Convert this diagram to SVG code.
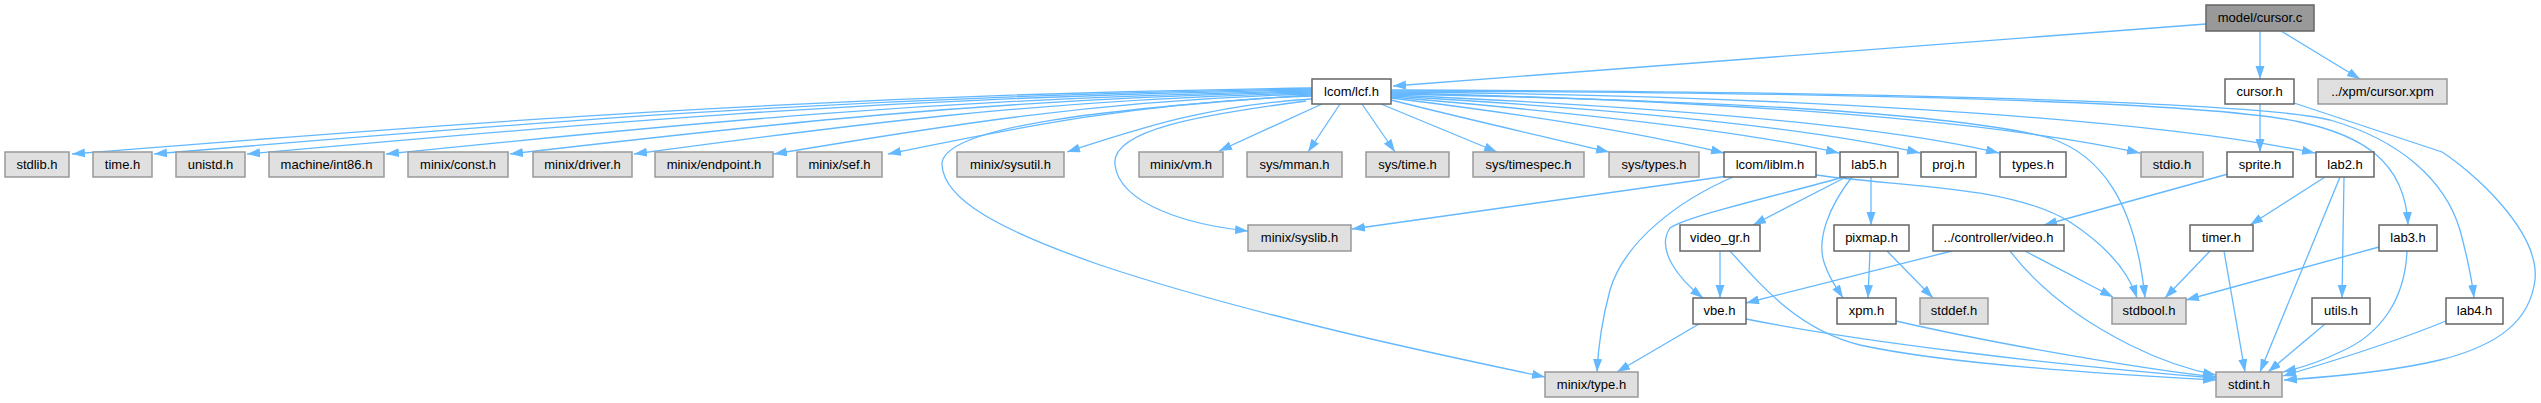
<svg xmlns="http://www.w3.org/2000/svg" width="2541" height="403" viewBox="0 0 2541 403">
<style>
.n rect{fill:#ffffff;stroke:#666666;stroke-width:1.5}
.g rect{fill:#e0e0e0;stroke:#999999;stroke-width:1.5}
.r rect{fill:#999999;stroke:#666666;stroke-width:1.5}
text{font-family:"Liberation Sans",Arial,sans-serif;font-size:13px;fill:#000000;text-anchor:middle}
#edges path{fill:none;stroke:#63B8FF;stroke-width:1.3;marker-end:url(#a)}
</style>
<defs>
<marker id="a" markerUnits="userSpaceOnUse" markerWidth="14" markerHeight="10" refX="13" refY="4.5" orient="auto"><path d="M0,0 L13,4.5 L0,9 z" fill="#63B8FF"/></marker>
</defs>
<rect width="2541" height="403" fill="#ffffff"/>
<g id="edges">
<path d="M2206,24 L1393,86"/>
<path d="M2260,31 L2260,79"/>
<path d="M2281,31 L2360,79"/>
<path d="M2260,104 L2260,152"/>
<path d="M2294,103 L2442,152 C2470,170 2540,230 2535,280 C2530,320 2500,345 2440,360 C2390,372 2330,377 2284,380"/>
<path d="M1312,88 C816,94.6 444,124.3 72,154"/>
<path d="M1312,89 C849,95.5 501,124.8 154,154"/>
<path d="M1312,90 C886,96.4 566,125.2 247,154"/>
<path d="M1312,91 C942,97.3 664,125.7 386,154"/>
<path d="M1312,92 C991,98.2 751,126.1 510,154"/>
<path d="M1312,93 C1041,99.1 837,126.6 634,154"/>
<path d="M1312,94 C1097,100 935,127 774,154"/>
<path d="M1312,96 C1142,101.8 1015,127.9 888,154"/>
<path d="M1312,99 C1214,104.3 1140,128 1067,152"/>
<path d="M1322,104 L1219,151"/>
<path d="M1340,104 L1308,152"/>
<path d="M1362,104 L1395,152"/>
<path d="M1381,104 L1497,152"/>
<path d="M1391,100 C1470,120 1550,138 1609,152"/>
<path d="M1391,98 C1530,115 1650,135 1724,153"/>
<path d="M1391,97 C1570,112 1740,130 1839,153"/>
<path d="M1391,96 C1600,108 1800,125 1920,153"/>
<path d="M1391,95 C1620,105 1870,122 1999,153"/>
<path d="M1391,93 C1700,100 1980,118 2140,153"/>
<path d="M1391,92 C1750,95 2130,115 2315,153"/>
<path d="M1391,91 C1800,92 2200,100 2300,122 C2360,135 2405,160 2408,225"/>
<path d="M1391,90 C1800,91 2250,100 2330,120 C2400,140 2445,180 2460,230 C2468,260 2472,280 2474,298"/>
<path d="M1391,94 C1700,100 1950,112 2050,138 C2100,155 2135,200 2145,298"/>
<path d="M1306,101 C1200,115 1110,130 1115,165 C1120,205 1190,225 1248,231"/>
<path d="M1311,95 C1120,108 940,125 942,165 C944,200 1000,230 1100,265 C1250,315 1440,355 1545,377"/>
<path d="M1728,176 L1352,229"/>
<path d="M1733,177 C1680,200 1625,240 1610,290 C1602,320 1598,350 1597,372"/>
<path d="M1816,175 C1900,187 2010,185 2070,222 C2105,245 2128,270 2137,298"/>
<path d="M1846,177 L1753,225"/>
<path d="M1840,178 C1780,195 1690,215 1670,228 C1655,250 1680,280 1703,298"/>
<path d="M1871,177 L1871,225"/>
<path d="M1852,177 C1830,205 1815,240 1825,265 C1830,280 1838,290 1843,298"/>
<path d="M1720,251 L1720,298"/>
<path d="M1730,251 C1765,290 1800,330 1860,345 C1950,365 2120,375 2216,380"/>
<path d="M1746,319 C1850,340 2050,365 2216,378"/>
<path d="M1699,324 L1617,372"/>
<path d="M1896,321 C2000,345 2150,370 2216,377"/>
<path d="M1870,251 L1868,298"/>
<path d="M1887,251 L1933,298"/>
<path d="M2228,174 L2044,225"/>
<path d="M1952,251 L1746,303"/>
<path d="M2025,251 L2113,297"/>
<path d="M2010,251 C2040,290 2080,320 2130,345 C2160,360 2190,370 2216,375"/>
<path d="M2325,177 L2250,225"/>
<path d="M2344,177 L2342,298"/>
<path d="M2340,177 L2260,372"/>
<path d="M2210,251 L2165,298"/>
<path d="M2224,251 L2245,372"/>
<path d="M2379,247 L2186,300"/>
<path d="M2407,251 C2405,300 2380,335 2340,352 C2320,362 2300,368 2283,372"/>
<path d="M2325,324 L2268,372"/>
<path d="M2446,321 C2400,340 2330,362 2283,376"/>
</g>
<g id="n_cursor_c" class="r"><rect x="2206" y="5" width="108" height="26"/><text x="2260" y="22">model/cursor.c</text></g>
<g id="n_lcf" class="n"><rect x="1312" y="79" width="79" height="25"/><text x="1351.5" y="96">lcom/lcf.h</text></g>
<g id="n_cursor_h" class="n"><rect x="2225" y="79" width="69" height="25"/><text x="2259.5" y="96">cursor.h</text></g>
<g id="n_cursor_xpm" class="g"><rect x="2318" y="79" width="129" height="25"/><text x="2382.5" y="96">../xpm/cursor.xpm</text></g>
<g id="n_stdlib" class="g"><rect x="5" y="152" width="64" height="25"/><text x="37" y="169">stdlib.h</text></g>
<g id="n_time" class="g"><rect x="93" y="152" width="59" height="25"/><text x="122.5" y="169">time.h</text></g>
<g id="n_unistd" class="g"><rect x="176" y="152" width="69" height="25"/><text x="210.5" y="169">unistd.h</text></g>
<g id="n_int86" class="g"><rect x="269" y="152" width="115" height="25"/><text x="326.5" y="169">machine/int86.h</text></g>
<g id="n_const" class="g"><rect x="408" y="152" width="100" height="25"/><text x="458" y="169">minix/const.h</text></g>
<g id="n_driver" class="g"><rect x="533" y="152" width="99" height="25"/><text x="582.5" y="169">minix/driver.h</text></g>
<g id="n_endpoint" class="g"><rect x="655" y="152" width="118" height="25"/><text x="714" y="169">minix/endpoint.h</text></g>
<g id="n_sef" class="g"><rect x="797" y="152" width="85" height="25"/><text x="839.5" y="169">minix/sef.h</text></g>
<g id="n_sysutil" class="g"><rect x="957" y="152" width="107" height="25"/><text x="1010.5" y="169">minix/sysutil.h</text></g>
<g id="n_vm" class="g"><rect x="1139" y="152" width="84" height="25"/><text x="1181" y="169">minix/vm.h</text></g>
<g id="n_mman" class="g"><rect x="1247" y="152" width="95" height="25"/><text x="1294.5" y="169">sys/mman.h</text></g>
<g id="n_systime" class="g"><rect x="1366" y="152" width="83" height="25"/><text x="1407.5" y="169">sys/time.h</text></g>
<g id="n_timespec" class="g"><rect x="1473" y="152" width="111" height="25"/><text x="1528.5" y="169">sys/timespec.h</text></g>
<g id="n_systypes" class="g"><rect x="1609" y="152" width="90" height="25"/><text x="1654" y="169">sys/types.h</text></g>
<g id="n_liblm" class="n"><rect x="1724" y="152" width="92" height="25"/><text x="1770" y="169">lcom/liblm.h</text></g>
<g id="n_lab5" class="n"><rect x="1840" y="152" width="58" height="25"/><text x="1869" y="169">lab5.h</text></g>
<g id="n_proj" class="n"><rect x="1921" y="152" width="55" height="25"/><text x="1948.5" y="169">proj.h</text></g>
<g id="n_types" class="n"><rect x="2000" y="152" width="66" height="25"/><text x="2033" y="169">types.h</text></g>
<g id="n_stdio" class="g"><rect x="2141" y="152" width="62" height="25"/><text x="2172" y="169">stdio.h</text></g>
<g id="n_sprite" class="n"><rect x="2227" y="152" width="66" height="25"/><text x="2260" y="169">sprite.h</text></g>
<g id="n_lab2" class="n"><rect x="2316" y="152" width="58" height="25"/><text x="2345" y="169">lab2.h</text></g>
<g id="n_syslib" class="g"><rect x="1248" y="225" width="103" height="26"/><text x="1299.5" y="242">minix/syslib.h</text></g>
<g id="n_video_gr" class="n"><rect x="1680" y="225" width="80" height="26"/><text x="1720" y="242">video_gr.h</text></g>
<g id="n_pixmap" class="n"><rect x="1834" y="225" width="75" height="26"/><text x="1871.5" y="242">pixmap.h</text></g>
<g id="n_video" class="n"><rect x="1933" y="225" width="131" height="26"/><text x="1998.5" y="242">../controller/video.h</text></g>
<g id="n_timer" class="n"><rect x="2190" y="225" width="63" height="26"/><text x="2221.5" y="242">timer.h</text></g>
<g id="n_lab3" class="n"><rect x="2379" y="225" width="58" height="26"/><text x="2408" y="242">lab3.h</text></g>
<g id="n_vbe" class="n"><rect x="1693" y="298" width="53" height="26"/><text x="1719.5" y="315">vbe.h</text></g>
<g id="n_xpm" class="n"><rect x="1837" y="298" width="59" height="26"/><text x="1866.5" y="315">xpm.h</text></g>
<g id="n_stddef" class="g"><rect x="1920" y="298" width="68" height="26"/><text x="1954" y="315">stddef.h</text></g>
<g id="n_stdbool" class="g"><rect x="2112" y="298" width="74" height="26"/><text x="2149" y="315">stdbool.h</text></g>
<g id="n_utils" class="n"><rect x="2312" y="298" width="58" height="26"/><text x="2341" y="315">utils.h</text></g>
<g id="n_lab4" class="n"><rect x="2446" y="298" width="57" height="26"/><text x="2474.5" y="315">lab4.h</text></g>
<g id="n_type" class="g"><rect x="1545" y="372" width="93" height="25"/><text x="1591.5" y="389">minix/type.h</text></g>
<g id="n_stdint" class="g"><rect x="2216" y="372" width="66" height="25"/><text x="2249" y="389">stdint.h</text></g>
</svg>
